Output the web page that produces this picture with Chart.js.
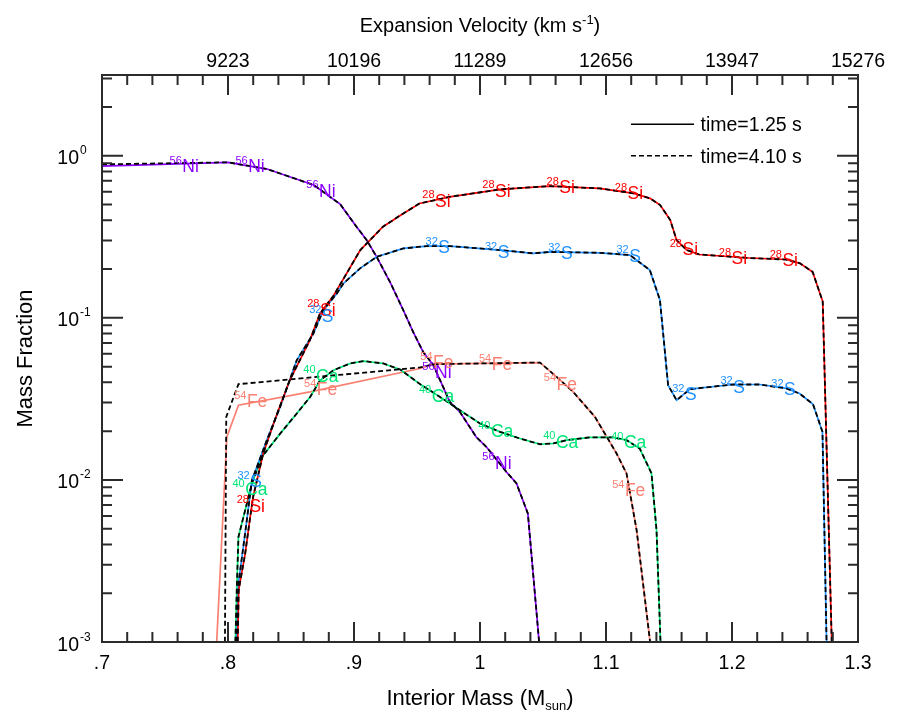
<!DOCTYPE html>
<html>
<head>
<meta charset="utf-8">
<script src="https://cdn.jsdelivr.net/npm/chart.js@4.4.1/dist/chart.umd.min.js"></script>
<style>
  html, body { margin: 0; padding: 0; background: #fff; }
  #wrap { width: 900px; height: 725px; }
</style>
</head>
<body>
<div id="wrap"><canvas id="plot" width="900" height="725"></canvas></div>
<script>
/* mass fractions vs interior mass, two epochs */

// 56Ni
const niMass  = [0.700, 0.800, 0.831, 0.868, 0.889, 0.902, 0.910, 0.918, 0.929, 0.939, 0.947, 0.955, 0.963, 0.976, 0.984, 0.997, 1.005, 1.021, 1.029, 1.038, 1.048];
const niEarly = [0.864, 0.911, 0.828, 0.660, 0.503, 0.365, 0.302, 0.238, 0.164, 0.112, 0.0816, 0.0614, 0.0511, 0.0303, 0.0263, 0.0184, 0.0160, 0.0112, 0.0095, 0.0062, 0.0008];
const niLate  = [0.885, 0.911, 0.828, 0.660, 0.503, 0.365, 0.302, 0.238, 0.164, 0.112, 0.0816, 0.0614, 0.0511, 0.0303, 0.0263, 0.0184, 0.0160, 0.0112, 0.0095, 0.0062, 0.0008];

// 28Si
const siMass = [0.8075, 0.8085, 0.8136, 0.8176, 0.820, 0.828, 0.839, 0.849, 0.865, 0.873, 0.884, 0.905, 0.923, 0.937, 0.952, 0.976, 1.016, 1.055, 1.095, 1.122, 1.135, 1.143, 1.151, 1.156, 1.164, 1.174, 1.214, 1.243, 1.254, 1.264, 1.272, 1.2795];
const siVal  = [0.0008, 0.0021, 0.0035, 0.0059, 0.0079, 0.0146, 0.0257, 0.0412, 0.0729, 0.1064, 0.138, 0.262, 0.365, 0.430, 0.508, 0.558, 0.620, 0.650, 0.629, 0.586, 0.546, 0.496, 0.401, 0.302, 0.262, 0.246, 0.234, 0.229, 0.217, 0.192, 0.126, 0.0008];

// 32S
const sMass = [0.8065, 0.8083, 0.8136, 0.819, 0.8308, 0.8414, 0.8546, 0.8678, 0.8757, 0.8864, 0.8916, 0.9048, 0.9181, 0.9392, 0.9577, 0.9762, 1.0159, 1.0423, 1.0555, 1.0952, 1.119, 1.1348, 1.1428, 1.1493, 1.156, 1.1666, 1.2009, 1.222, 1.2432, 1.2537, 1.2643, 1.2718, 1.2753];
const sVal  = [0.0008, 0.0023, 0.00469, 0.00995, 0.0176, 0.0282, 0.0548, 0.0801, 0.1116, 0.1415, 0.163, 0.202, 0.238, 0.268, 0.277, 0.277, 0.262, 0.250, 0.255, 0.252, 0.244, 0.197, 0.129, 0.0384, 0.031, 0.0363, 0.0388, 0.0388, 0.0367, 0.0341, 0.0293, 0.0198, 0.0008];

// 40Ca
const caMass = [0.8055, 0.8071, 0.8083, 0.8136, 0.819, 0.8269, 0.8414, 0.8546, 0.8652, 0.8731, 0.8837, 0.8969, 0.9075, 0.9233, 0.9366, 0.9524, 0.9683, 0.9841, 1.000, 1.0159, 1.0317, 1.0476, 1.0582, 1.0688, 1.0873, 1.1057, 1.1163, 1.1268, 1.1361, 1.1401, 1.1437];
const caVal  = [0.0008, 0.00229, 0.00445, 0.0065, 0.0095, 0.01387, 0.0193, 0.0257, 0.0325, 0.0412, 0.0475, 0.0523, 0.0541, 0.0523, 0.048, 0.039, 0.0325, 0.0269, 0.0223, 0.0198, 0.018, 0.0166, 0.0168, 0.0176, 0.0183, 0.0183, 0.0176, 0.0156, 0.011, 0.00489, 0.0008];

// 54Fe (differs between epochs at the inner edge)
const feMassEarly = [0.7904, 0.7991, 0.8083, 0.8652, 0.9524, 0.963, 1.000, 1.0476, 1.0608, 1.074, 1.0912, 1.1084, 1.1163, 1.1243, 1.1365];
const feEarly     = [0.0008, 0.0184, 0.0289, 0.0349, 0.0487, 0.0518, 0.0523, 0.0530, 0.0432, 0.0349, 0.0245, 0.01456, 0.01096, 0.0049, 0.0008];
const feMassLate  = [0.7975, 0.7986, 0.8083, 0.9524, 0.963, 1.000, 1.0476, 1.0608, 1.074, 1.0912, 1.1084, 1.1163, 1.1243, 1.1365];
const feLate      = [0.0008, 0.0245, 0.039, 0.0494, 0.0518, 0.0523, 0.0530, 0.0432, 0.0349, 0.0245, 0.01456, 0.01096, 0.0049, 0.0008];

// where the isotope names sit on the curves
const niLabelMass = [0.7637, 0.8160, 0.8723, 0.9643, 1.0119];
const niLabelVal  = [0.793, 0.793, 0.558, 0.0425, 0.01175];
const siLabelMass = [0.8170, 0.8730, 0.9643, 1.0119, 1.0629, 1.1171, 1.1607, 1.1996, 1.2400];
const siLabelVal  = [0.00634, 0.1028, 0.484, 0.558, 0.586, 0.538, 0.244, 0.214, 0.2086];
const sLabelMass  = [0.8176, 0.8745, 0.9669, 1.0140, 1.0642, 1.1184, 1.1626, 1.2009, 1.2413];
const sLabelVal   = [0.00898, 0.0945, 0.2498, 0.2328, 0.2293, 0.2218, 0.0310, 0.0344, 0.0333];
const caLabelMass = [0.8136, 0.8699, 0.9617, 1.0087, 1.0603, 1.1142];
const caLabelVal  = [0.00805, 0.0403, 0.0303, 0.0183, 0.01585, 0.01563];
const feLabelMass = [0.8150, 0.8705, 0.9627, 1.0093, 1.0608, 1.1150];
const feLabelVal  = [0.0280, 0.0333, 0.0487, 0.0475, 0.0361, 0.00794];

// axes
const massTicks      = [0.7, 0.8, 0.9, 1.0, 1.1, 1.2, 1.3];
const massTickLabels = ['.7', '.8', '.9', '1', '1.1', '1.2', '1.3'];
const velocityTicks  = [0.8, 0.9, 1.0, 1.1, 1.2, 1.3];
const velocityLabels = ['9223', '10196', '11289', '12656', '13947', '15276'];
const decadeTicks    = [0.001, 0.01, 0.1, 1];
const decadeExps     = ['-3', '-2', '-1', '0'];
const legendLabels   = ['time=1.25 s', 'time=4.10 s'];

const FONT = '"Liberation Sans", Arial, Helvetica, sans-serif';
const AXIS = '#2b2b2b';
const Y_MAX = 3.15;

const species = [
  { iso: '28', el: 'Si', color: '#ff0000', mass: siMass, early: siVal, lateMass: siMass, late: siVal, lm: siLabelMass, lv: siLabelVal },
  { iso: '32', el: 'S',  color: '#1e90ff', mass: sMass,  early: sVal,  lateMass: sMass,  late: sVal,  lm: sLabelMass,  lv: sLabelVal },
  { iso: '40', el: 'Ca', color: '#00e676', mass: caMass, early: caVal, lateMass: caMass, late: caVal, lm: caLabelMass, lv: caLabelVal },
  { iso: '54', el: 'Fe', color: '#fa8072', mass: feMassEarly, early: feEarly, lateMass: feMassLate, late: feLate, lm: feLabelMass, lv: feLabelVal },
  { iso: '56', el: 'Ni', color: '#8b00ff', mass: niMass, early: niEarly, lateMass: niMass, late: niLate, lm: niLabelMass, lv: niLabelVal }
];

function pts(xs, ys) { return xs.map((x, i) => ({ x: x, y: ys[i] })); }

const datasets = [];
species.forEach(sp => {
  datasets.push({
    label: sp.iso + sp.el + ' 1.25 s', data: pts(sp.mass, sp.early),
    borderColor: sp.color, borderWidth: 1.7, order: 2
  });
  datasets.push({
    label: sp.iso + sp.el + ' 4.10 s', data: pts(sp.lateMass, sp.late),
    borderColor: '#000000', borderWidth: 1.8, borderDash: [5, 3], order: 1
  });
});

function isoText(ctx, x, y, iso, el, color) {
  ctx.fillStyle = color;
  ctx.textBaseline = 'alphabetic';
  ctx.font = '17.5px ' + FONT;
  ctx.textAlign = 'left';
  ctx.fillText(el, x, y);
  ctx.font = '11px ' + FONT;
  ctx.textAlign = 'right';
  ctx.fillText(iso, x - 0.5, y - 8.5);
}

const curveLabels = {
  id: 'curveLabels',
  afterDatasetsDraw(chart) {
    const ctx = chart.ctx, xs = chart.scales.x, ys = chart.scales.y;
    ctx.save();
    species.forEach(sp => {
      sp.lm.forEach((m, i) => {
        isoText(ctx, xs.getPixelForValue(m), ys.getPixelForValue(sp.lv[i]), sp.iso, sp.el, sp.color);
      });
    });
    ctx.restore();
  }
};

const frame = {
  id: 'frame',
  afterDraw(chart) {
    const ctx = chart.ctx, a = chart.chartArea;
    const xs = chart.scales.x, ys = chart.scales.y;
    ctx.save();
    ctx.strokeStyle = AXIS;
    ctx.lineWidth = 2;
    ctx.strokeRect(a.left, a.top, a.right - a.left, a.bottom - a.top);

    // ticks, pointing inward on all four sides
    ctx.beginPath();
    for (let i = 0; i <= 30; i++) {
      const v = Math.round((0.7 + i * 0.02) * 1000) / 1000;
      const x = xs.getPixelForValue(v);
      const len = i % 5 === 0 ? 20 : 10;
      ctx.moveTo(x, a.bottom); ctx.lineTo(x, a.bottom - len);
      ctx.moveTo(x, a.top); ctx.lineTo(x, a.top + len);
    }
    decadeTicks.forEach(d => {
      for (let k = 1; k <= 9; k++) {
        const v = d * k;
        if (v > Y_MAX) break;
        const y = ys.getPixelForValue(v);
        const len = k === 1 ? 21 : 10;
        ctx.moveTo(a.left, y); ctx.lineTo(a.left + len, y);
        ctx.moveTo(a.right, y); ctx.lineTo(a.right - len, y);
      }
    });
    ctx.stroke();

    ctx.fillStyle = '#000';
    ctx.textBaseline = 'alphabetic';
    ctx.font = '19.5px ' + FONT;
    ctx.textAlign = 'center';
    massTicks.forEach((v, i) => ctx.fillText(massTickLabels[i], xs.getPixelForValue(v), a.bottom + 26.5));
    velocityTicks.forEach((v, i) => ctx.fillText(velocityLabels[i], xs.getPixelForValue(v), a.top - 8.5));

    decadeTicks.forEach((v, i) => {
      const y = ys.getPixelForValue(v);
      ctx.font = '19.5px ' + FONT;
      ctx.textAlign = 'right';
      ctx.fillText('10', a.left - 23, y + 8.5);
      ctx.font = '12px ' + FONT;
      ctx.textAlign = 'left';
      ctx.fillText(decadeExps[i], a.left - 22, y - 1.5);
    });

    // axis titles
    const cx = (a.left + a.right) / 2;
    drawParts(ctx, cx, 32, [['Expansion Velocity (km s', 20, 0], ['-1', 13, -8], [')', 20, 0]]);
    drawParts(ctx, cx, 705, [['Interior Mass (M', 22, 0], ['sun', 13, 5], [')', 22, 0]]);
    ctx.save();
    ctx.translate(32, (a.top + a.bottom) / 2);
    ctx.rotate(-Math.PI / 2);
    ctx.font = '22px ' + FONT;
    ctx.textAlign = 'center';
    ctx.fillText('Mass Fraction', 0, 0);
    ctx.restore();

    // legend
    const lx = a.right - 227, ly = [a.top + 49.3, a.top + 80.7];
    ctx.strokeStyle = '#000';
    ctx.lineWidth = 1.6;
    ly.forEach((y, i) => {
      ctx.setLineDash(i === 0 ? [] : [5, 3]);
      ctx.beginPath();
      ctx.moveTo(lx, y); ctx.lineTo(lx + 63, y);
      ctx.stroke();
      ctx.font = '19.5px ' + FONT;
      ctx.textAlign = 'left';
      ctx.fillText(legendLabels[i], lx + 69.5, y + 6.8);
    });
    ctx.restore();
  }
};

// text made of pieces with raised/lowered parts, centred on cx
function drawParts(ctx, cx, y, parts) {
  let w = 0;
  parts.forEach(p => { ctx.font = p[1] + 'px ' + FONT; w += ctx.measureText(p[0]).width; });
  let x = cx - w / 2;
  ctx.textAlign = 'left';
  parts.forEach(p => {
    ctx.font = p[1] + 'px ' + FONT;
    ctx.fillText(p[0], x, y + p[2]);
    x += ctx.measureText(p[0]).width;
  });
}

new Chart(document.getElementById('plot'), {
  type: 'line',
  data: { datasets: datasets },
  options: {
    responsive: false,
    animation: false,
    devicePixelRatio: 1,
    layout: { padding: { left: 102, top: 75, right: 42, bottom: 83 } },
    elements: { point: { radius: 0 }, line: { tension: 0, fill: false } },
    scales: {
      x: { type: 'linear', min: 0.7, max: 1.3, display: false },
      y: { type: 'logarithmic', min: 0.001, max: Y_MAX, display: false }
    },
    plugins: {
      legend: { display: false },
      tooltip: { enabled: false }
    }
  },
  plugins: [curveLabels, frame]
});
</script>
</body>
</html>
